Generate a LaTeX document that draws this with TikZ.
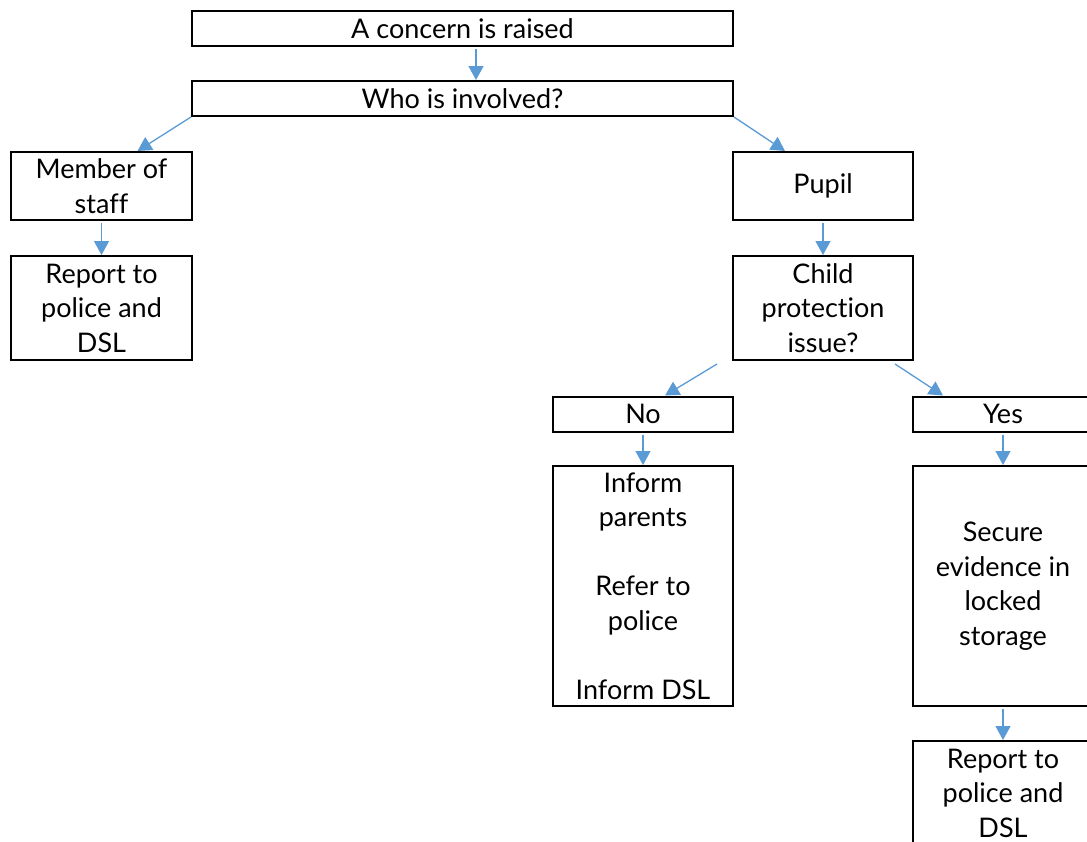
\documentclass[tikz,border=0pt]{standalone}
\usepackage{fontspec}
\setmainfont{Lato}[Ligatures=NoCommon]
\usetikzlibrary{arrows.meta}
\definecolor{arrowblue}{HTML}{5B9BD5}
\begin{document}
\begin{tikzpicture}[x=1pt,y=-1pt,
  box/.style={draw=black, line width=2pt, inner sep=0pt, align=center,
    font=\fontsize{27}{34.5}\selectfont, fill=white},
  conn/.style={draw=arrowblue, line width=1.3pt,
    -{Triangle[width=15pt,length=14pt]}, shorten <=2pt}]
\useasboundingbox (0,0) rectangle (1087,841);
\node[box, minimum width=541, minimum height=35] (raise) at (462.5,28.5) {A concern is raised};
\node[box, minimum width=541, minimum height=35] (who) at (462.5,98.5) {Who is involved?};
\node[box, minimum width=181, minimum height=68] (staff) at (101.5,186) {Member of\\staff};
\node[box, minimum width=181, minimum height=104] (rep1) at (101.5,308) {Report to\\police and\\DSL};
\node[box, minimum width=180, minimum height=68] (pupil) at (823,186) {Pupil};
\node[box, minimum width=180, minimum height=104] (child) at (823,308) {Child\\protection\\issue?};
\node[box, minimum width=180, minimum height=35] (no) at (643,414) {No};
\node[box, minimum width=180, minimum height=35] (yes) at (1003,414) {Yes};
\node[box, minimum width=180, minimum height=240] (inform) at (643,586) {Inform\\parents\\[34.5pt]Refer to\\police\\[34.5pt]Inform DSL};
\node[box, minimum width=180, minimum height=240] (secure) at (1003,586) {Secure\\evidence in\\locked\\storage};
\node[box, minimum width=180, minimum height=104] (rep2) at (1003,793) {Report to\\police and\\DSL};
\draw[conn] ([xshift=13.5pt]raise.south) -- ([xshift=13.5pt]who.north);
\draw[conn, shorten <=0pt] (who.south west) -- ([xshift=36pt]staff.north);
\draw[conn, shorten <=0pt] (who.south east) -- ([xshift=-38pt]pupil.north);
\draw[conn] (staff.south) -- (rep1.north);
\draw[conn] (pupil.south) -- (child.north);
\draw[conn, shorten <=0pt] ([xshift=-15pt,yshift=-3pt]child.south west) -- ([xshift=22pt]no.north);
\draw[conn, shorten <=0pt] ([xshift=-19pt,yshift=-3pt]child.south east) -- ([xshift=-60pt]yes.north);
\draw[conn] (no.south) -- (inform.north);
\draw[conn] (yes.south) -- (secure.north);
\draw[conn] (secure.south) -- (rep2.north);
\end{tikzpicture}
\end{document}
